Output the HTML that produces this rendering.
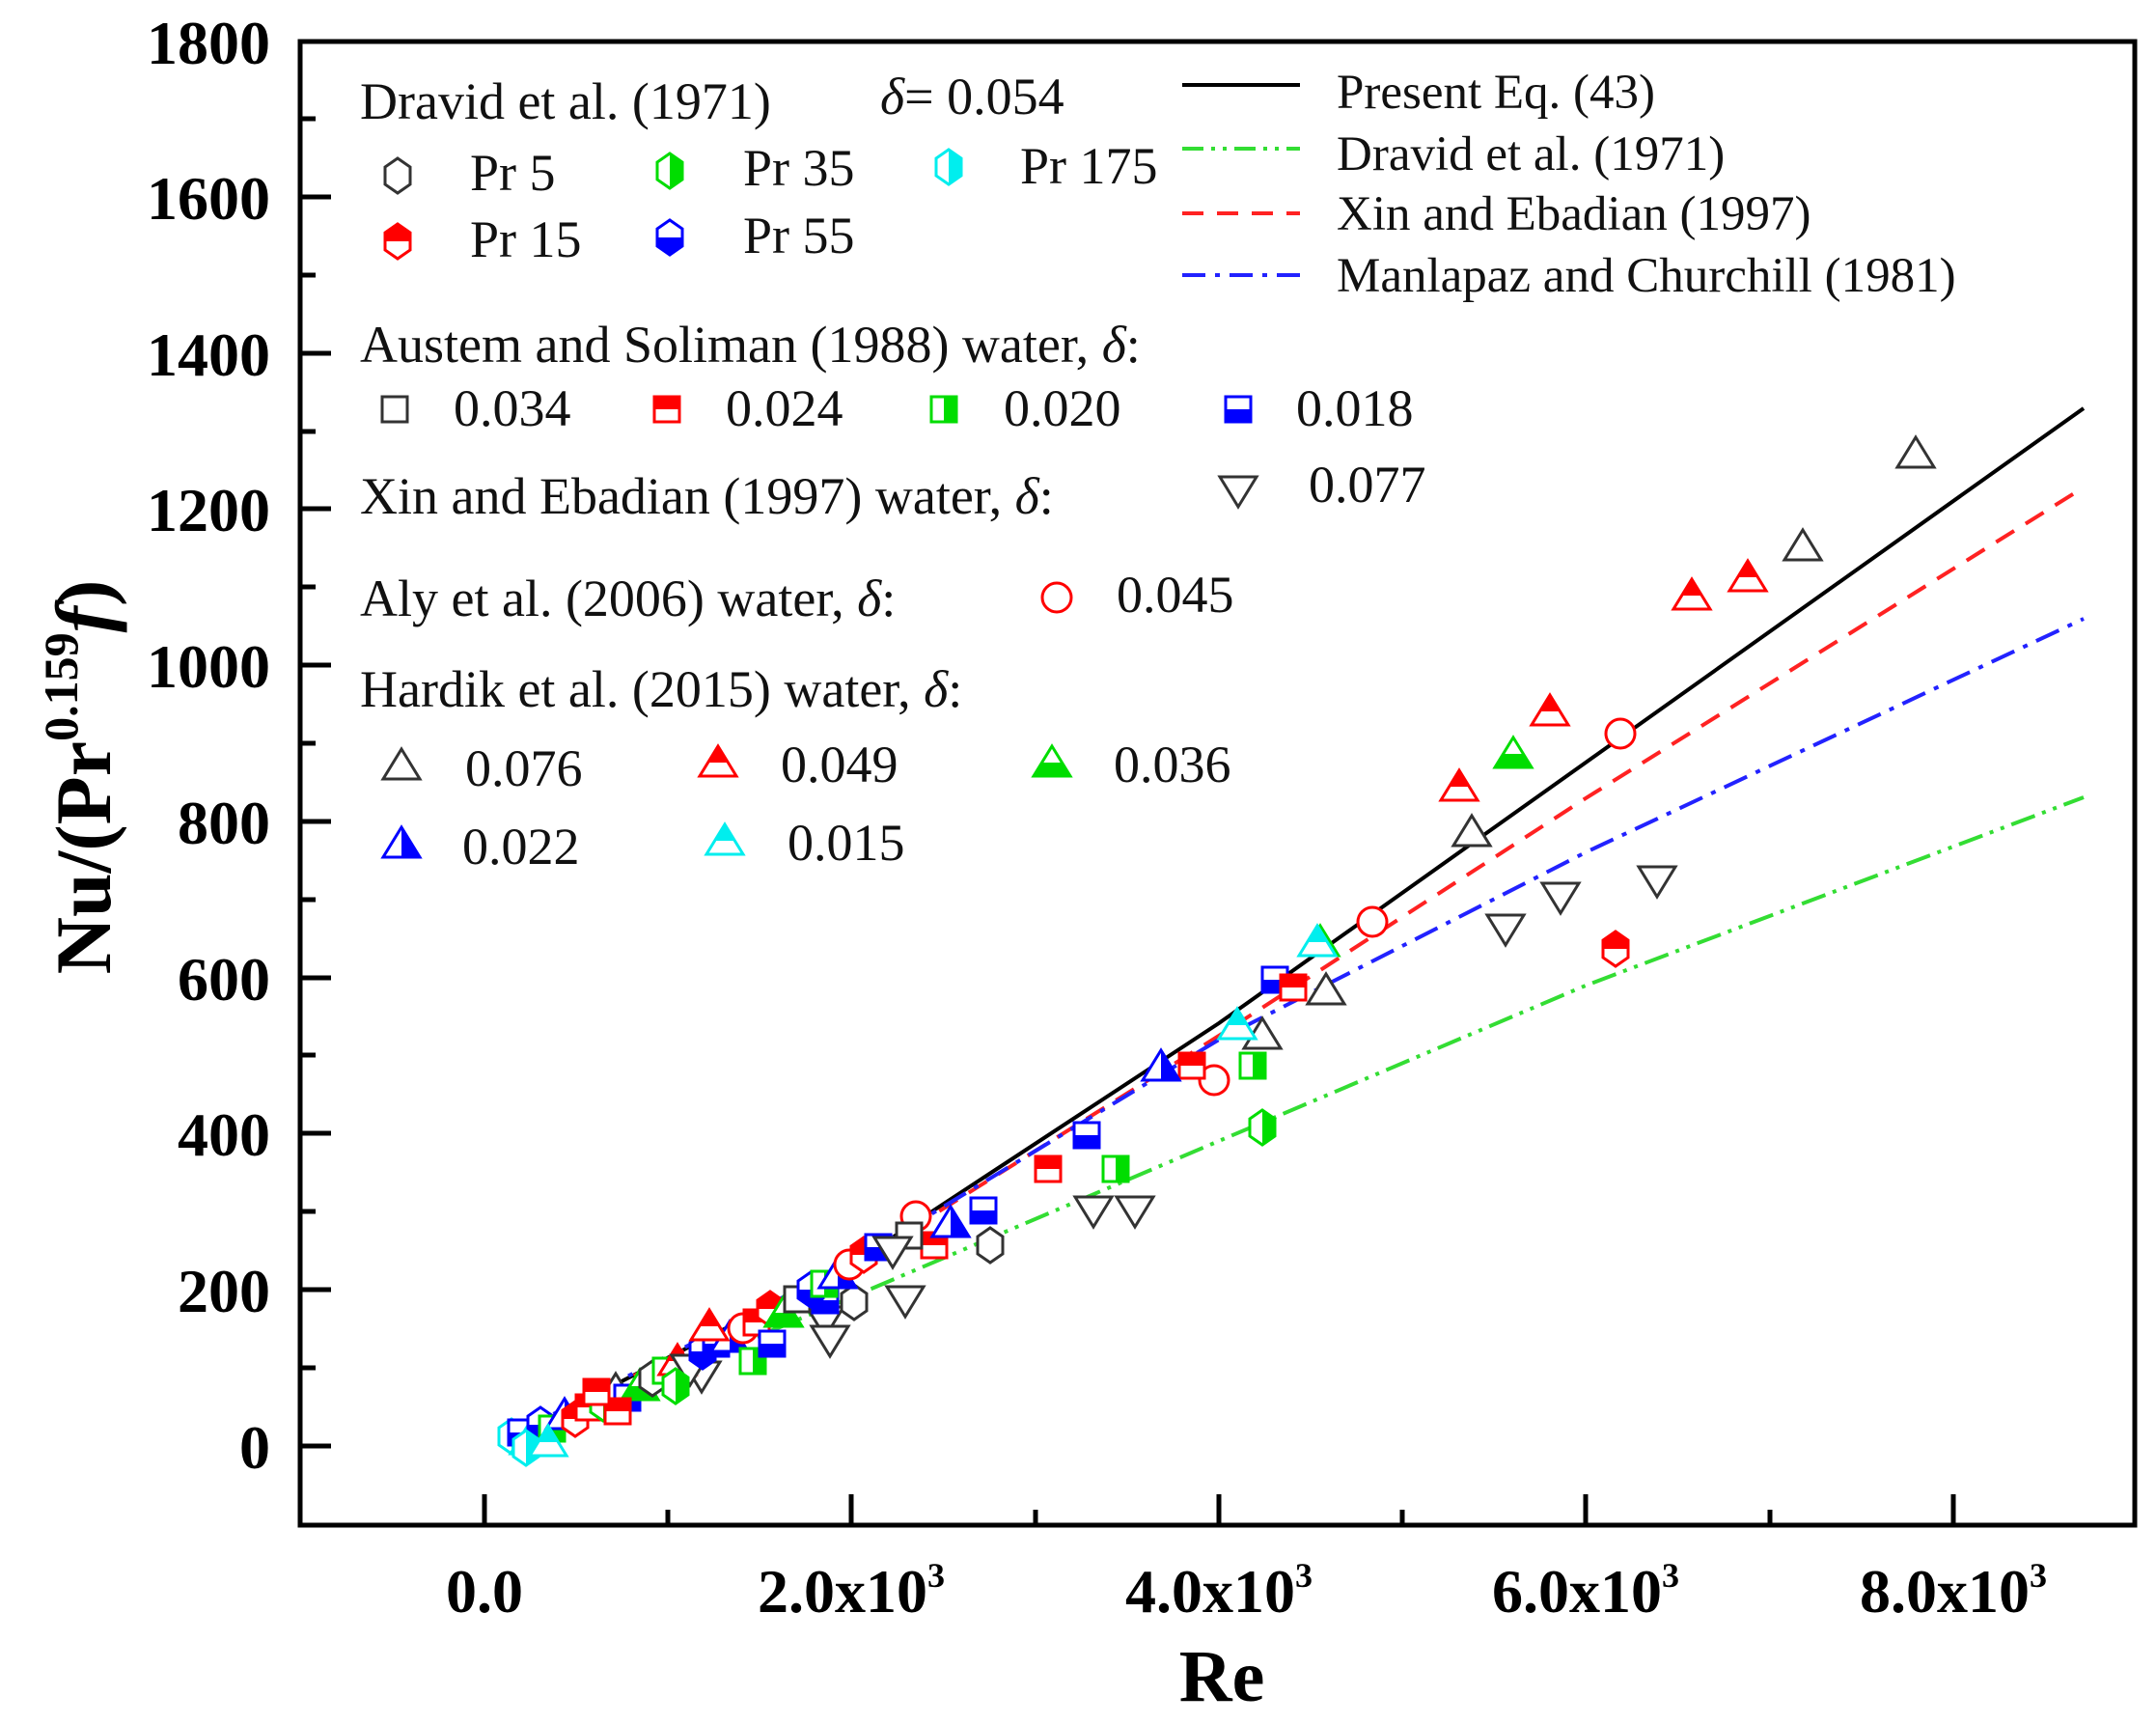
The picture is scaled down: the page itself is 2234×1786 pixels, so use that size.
<!DOCTYPE html>
<html><head><meta charset="utf-8"><style>
html,body{margin:0;padding:0;background:#fff}
svg{display:block}
text{font-family:"Liberation Serif",serif}
</style></head><body>
<svg width="2234" height="1786" viewBox="0 0 2234 1786" xmlns="http://www.w3.org/2000/svg">
<defs>
<clipPath id="cT" clipPathUnits="userSpaceOnUse"><rect x="-30" y="-30" width="60" height="30"/></clipPath>
<clipPath id="cB" clipPathUnits="userSpaceOnUse"><rect x="-30" y="0" width="60" height="30"/></clipPath>
<clipPath id="cR" clipPathUnits="userSpaceOnUse"><rect x="0" y="-30" width="30" height="60"/></clipPath>
<g id="hex"><polygon points="0,-18 13,-9 13,9 0,18 -13,9 -13,-9" fill="#fff" stroke="#333" stroke-width="3"/></g>
<g id="hexR"><polygon points="0,-18 13,-9 13,9 0,18 -13,9 -13,-9" fill="#fff" stroke="#f00" stroke-width="3"/><polygon points="0,-18 13,-9 13,9 0,18 -13,9 -13,-9" fill="#f00" clip-path="url(#cT)"/></g>
<g id="hexG"><polygon points="0,-18 13,-9 13,9 0,18 -13,9 -13,-9" fill="#fff" stroke="#0d0" stroke-width="3"/><polygon points="0,-18 13,-9 13,9 0,18 -13,9 -13,-9" fill="#0d0" clip-path="url(#cR)"/></g>
<g id="hexB"><polygon points="0,-18 13,-9 13,9 0,18 -13,9 -13,-9" fill="#fff" stroke="#00f" stroke-width="3"/><polygon points="0,-18 13,-9 13,9 0,18 -13,9 -13,-9" fill="#00f" clip-path="url(#cB)"/></g>
<g id="hexC"><polygon points="0,-18 13,-9 13,9 0,18 -13,9 -13,-9" fill="#fff" stroke="#0ee" stroke-width="3"/><polygon points="0,-18 13,-9 13,9 0,18 -13,9 -13,-9" fill="#0ee" clip-path="url(#cR)"/></g>
<g id="sq"><rect x="-13" y="-13" width="26" height="26" fill="#fff" stroke="#333" stroke-width="3"/></g>
<g id="sqR"><rect x="-13" y="-13" width="26" height="26" fill="#fff" stroke="#f00" stroke-width="3"/><rect x="-13" y="-13" width="26" height="13" fill="#f00"/></g>
<g id="sqG"><rect x="-13" y="-13" width="26" height="26" fill="#fff" stroke="#0d0" stroke-width="3"/><rect x="0" y="-13" width="13" height="26" fill="#0d0"/></g>
<g id="sqB"><rect x="-13" y="-13" width="26" height="26" fill="#fff" stroke="#00f" stroke-width="3"/><rect x="-13" y="0" width="26" height="13" fill="#00f"/></g>
<g id="tri"><polygon points="0,-17 19,14 -19,14" fill="#fff" stroke="#333" stroke-width="3"/></g>
<g id="triR"><polygon points="0,-17 19,14 -19,14" fill="#fff" stroke="#f00" stroke-width="3"/><polygon points="0,-17 19,14 -19,14" fill="#f00" clip-path="url(#cT)"/></g>
<g id="triG"><polygon points="0,-17 19,14 -19,14" fill="#fff" stroke="#0d0" stroke-width="3"/><polygon points="0,-17 19,14 -19,14" fill="#0d0" clip-path="url(#cB)"/></g>
<g id="triB"><polygon points="0,-17 19,14 -19,14" fill="#fff" stroke="#00f" stroke-width="3"/><polygon points="0,-17 19,14 -19,14" fill="#00f" clip-path="url(#cR)"/></g>
<g id="triC"><polygon points="0,-17 19,14 -19,14" fill="#fff" stroke="#0ee" stroke-width="3"/><polygon points="0,-17 19,14 -19,14" fill="#0ee" clip-path="url(#cT)"/></g>
<g id="dtri"><polygon points="0,17 19,-14 -19,-14" fill="#fff" stroke="#333" stroke-width="3"/></g>
<g id="cir"><circle r="15" fill="#fff" stroke="#f00" stroke-width="3"/></g>
</defs>

<rect x="311" y="43" width="1901" height="1537" fill="none" stroke="#000" stroke-width="5"/>
<g stroke="#000" stroke-width="5">
<line x1="311" y1="1498" x2="343" y2="1498"/><line x1="311" y1="1417" x2="327" y2="1417"/>
<line x1="311" y1="1336" x2="343" y2="1336"/><line x1="311" y1="1255" x2="327" y2="1255"/>
<line x1="311" y1="1174" x2="343" y2="1174"/><line x1="311" y1="1093" x2="327" y2="1093"/>
<line x1="311" y1="1013" x2="343" y2="1013"/><line x1="311" y1="932" x2="327" y2="932"/>
<line x1="311" y1="851" x2="343" y2="851"/><line x1="311" y1="770" x2="327" y2="770"/>
<line x1="311" y1="689" x2="343" y2="689"/><line x1="311" y1="608" x2="327" y2="608"/>
<line x1="311" y1="527" x2="343" y2="527"/><line x1="311" y1="447" x2="327" y2="447"/>
<line x1="311" y1="366" x2="343" y2="366"/><line x1="311" y1="285" x2="327" y2="285"/>
<line x1="311" y1="204" x2="343" y2="204"/><line x1="311" y1="123" x2="327" y2="123"/>
<line x1="502" y1="1580" x2="502" y2="1548"/><line x1="692" y1="1580" x2="692" y2="1564"/>
<line x1="882" y1="1580" x2="882" y2="1548"/><line x1="1073" y1="1580" x2="1073" y2="1564"/>
<line x1="1263" y1="1580" x2="1263" y2="1548"/><line x1="1453" y1="1580" x2="1453" y2="1564"/>
<line x1="1643" y1="1580" x2="1643" y2="1548"/><line x1="1834" y1="1580" x2="1834" y2="1564"/>
<line x1="2024" y1="1580" x2="2024" y2="1548"/>
</g>
<g font-size="64" font-weight="bold" text-anchor="end">
<text x="280" y="1521">0</text><text x="280" y="1359">200</text><text x="280" y="1197">400</text>
<text x="280" y="1036">600</text><text x="280" y="874">800</text><text x="280" y="712">1000</text>
<text x="280" y="550">1200</text><text x="280" y="389">1400</text><text x="280" y="227">1600</text>
<text x="280" y="66">1800</text>
</g>
<g font-size="64" font-weight="bold" text-anchor="middle">
<text x="502" y="1670">0.0</text>
<text x="882" y="1670">2.0x10<tspan font-size="36" dy="-26">3</tspan></text>
<text x="1263" y="1670">4.0x10<tspan font-size="36" dy="-26">3</tspan></text>
<text x="1643" y="1670">6.0x10<tspan font-size="36" dy="-26">3</tspan></text>
<text x="2024" y="1670">8.0x10<tspan font-size="36" dy="-26">3</tspan></text>
<text x="1266" y="1762" font-size="76">Re</text>
</g>
<text transform="translate(114,805) rotate(-90)" font-size="82" font-weight="bold" text-anchor="middle">Nu/(Pr<tspan font-size="50" dy="-34">0.159</tspan><tspan dy="34" font-style="italic">f</tspan>)</text>

<g fill="none" stroke-width="4">
<polyline points="528,1490 882,1310 1263,1060 1643,790 2159,423" stroke="#000"/>
<polyline points="528,1490 882,1312 1263,1073 1643,827 2159,505" stroke="#f22" stroke-dasharray="22,14"/>
<polyline points="528,1488 882,1308 1263,1077 1643,883 2159,641" stroke="#22f" stroke-dasharray="26,10,5,10"/>
<polyline points="528,1492 882,1344 1263,1182 1643,1021 2159,826" stroke="#3d3" stroke-dasharray="26,8,4,8,4,8"/>
</g>

<use href="#tri" x="1985" y="470"/><use href="#tri" x="1868" y="566"/><use href="#tri" x="1525" y="862"/><use href="#tri" x="1374" y="1026"/><use href="#tri" x="1308" y="1072"/>
<use href="#triR" x="1753" y="617"/><use href="#triR" x="1811" y="598"/><use href="#triR" x="1606" y="737"/><use href="#triR" x="1512" y="815"/>
<use href="#triG" x="1568" y="781"/><use href="#triG" x="1368" y="976"/>
<use href="#cir" x="1679" y="760"/><use href="#cir" x="1422" y="955"/><use href="#cir" x="1258" y="1119"/><use href="#cir" x="949" y="1260"/>
<use href="#dtri" x="1717" y="912"/><use href="#dtri" x="1617" y="929"/><use href="#dtri" x="1560" y="962"/><use href="#dtri" x="1176" y="1254"/><use href="#dtri" x="1133" y="1254"/><use href="#dtri" x="938" y="1347"/><use href="#dtri" x="855" y="1368"/><use href="#dtri" x="727" y="1425"/>
<use href="#hexR" x="1674" y="983"/><use href="#hexG" x="1308" y="1168"/>
<use href="#sqB" x="1321" y="1015"/><use href="#sqB" x="1126" y="1176"/><use href="#sqB" x="1019" y="1254"/><use href="#sqB" x="855" y="1347"/>
<use href="#sqG" x="1156" y="1211"/><use href="#sqG" x="1298" y="1104"/>
<use href="#sqR" x="1086" y="1211"/><use href="#sqR" x="968" y="1290"/><use href="#sqR" x="1235" y="1104"/><use href="#sqR" x="1340" y="1023"/>
<use href="#sq" x="942" y="1280"/><use href="#sq" x="805" y="1361"/>
<use href="#triC" x="1365" y="976"/><use href="#triC" x="1282" y="1062"/>
<use href="#triB" x="1203" y="1105"/><use href="#triB" x="985" y="1267"/>
<use href="#hex" x="1026" y="1290"/><use href="#hex" x="885" y="1349"/>
<use href="#hexC" x="530" y="1488"/><use href="#sqB" x="540" y="1484"/><use href="#triC" x="548" y="1492"/><use href="#hexB" x="560" y="1476"/><use href="#sqG" x="572" y="1480"/><use href="#triB" x="585" y="1466"/><use href="#hexR" x="596" y="1470"/><use href="#sqR" x="610" y="1458"/><use href="#hexG" x="625" y="1454"/><use href="#tri" x="638" y="1440"/><use href="#sqB" x="650" y="1448"/><use href="#triG" x="663" y="1436"/><use href="#hex" x="676" y="1428"/><use href="#sqG" x="690" y="1420"/><use href="#triR" x="702" y="1410"/><use href="#dtri" x="715" y="1418"/><use href="#hexB" x="728" y="1400"/><use href="#sqB" x="742" y="1392"/><use href="#triB" x="756" y="1386"/><use href="#cir" x="770" y="1376"/><use href="#sqR" x="784" y="1370"/><use href="#hexR" x="798" y="1356"/><use href="#triG" x="812" y="1360"/><use href="#sq" x="826" y="1346"/><use href="#hexB" x="840" y="1336"/><use href="#sqG" x="854" y="1330"/><use href="#triB" x="868" y="1320"/><use href="#cir" x="880" y="1310"/><use href="#hexR" x="895" y="1300"/><use href="#sqB" x="910" y="1292"/><use href="#dtri" x="925" y="1296"/><use href="#dtri" x="860" y="1388"/><use href="#sqG" x="780" y="1410"/><use href="#hexG" x="700" y="1436"/><use href="#sqR" x="640" y="1462"/><use href="#sqR" x="618" y="1442"/><use href="#triR" x="735" y="1374"/><use href="#sqB" x="800" y="1392"/><use href="#hexC" x="545" y="1500"/><use href="#triC" x="568" y="1494"/>

<g font-size="54" fill="#111">
<text x="373" y="123">Dravid  et al. (1971)</text><text x="912" y="118"><tspan font-style="italic">δ</tspan>= 0.054</text>
<text x="487" y="197">Pr 5</text><text x="770" y="192">Pr 35</text><text x="1057" y="190">Pr 175</text>
<text x="487" y="266">Pr 15</text><text x="770" y="262">Pr  55</text>
<text x="373" y="375">Austem and Soliman (1988) water, <tspan font-style="italic">δ</tspan>:</text>
<text x="470" y="441">0.034</text><text x="752" y="441">0.024</text><text x="1040" y="441">0.020</text><text x="1343" y="441">0.018</text>
<text x="373" y="532">Xin and Ebadian (1997) water, <tspan font-style="italic">δ</tspan>:</text><text x="1356" y="520">0.077</text>
<text x="373" y="638">Aly et al. (2006) water, <tspan font-style="italic">δ</tspan>:</text><text x="1157" y="634">0.045</text>
<text x="373" y="732">Hardik et al. (2015) water, <tspan font-style="italic">δ</tspan>:</text>
<text x="482" y="814">0.076</text><text x="809" y="810">0.049</text><text x="1154" y="810">0.036</text>
<text x="479" y="895">0.022</text><text x="816" y="891">0.015</text>
</g>
<use href="#hex" x="412" y="182"/><use href="#hexG" x="694" y="177"/><use href="#hexC" x="983" y="173"/>
<use href="#hexR" x="412" y="250"/><use href="#hexB" x="694" y="246"/>
<use href="#sq" x="409" y="424"/><use href="#sqR" x="691" y="424"/><use href="#sqG" x="978" y="424"/><use href="#sqB" x="1283" y="424"/>
<use href="#dtri" x="1283" y="508"/><use href="#cir" x="1095" y="619"/>
<use href="#tri" x="416" y="793"/><use href="#triR" x="744" y="790"/><use href="#triG" x="1090" y="790"/>
<use href="#triB" x="416" y="874"/><use href="#triC" x="751" y="871"/>

<g stroke-width="4">
<line x1="1225" y1="88" x2="1347" y2="88" stroke="#000"/>
<line x1="1225" y1="154" x2="1347" y2="154" stroke="#3d3" stroke-dasharray="22,8,4,8,4,8"/>
<line x1="1225" y1="221" x2="1347" y2="221" stroke="#f22" stroke-dasharray="22,14"/>
<line x1="1225" y1="285" x2="1347" y2="285" stroke="#22f" stroke-dasharray="24,10,5,10"/>
</g>
<g font-size="51" fill="#111">
<text x="1385" y="112">Present Eq. (43)</text>
<text x="1385" y="176">Dravid et al. (1971)</text>
<text x="1385" y="238">Xin and Ebadian (1997)</text>
<text x="1385" y="302">Manlapaz and Churchill (1981)</text>
</g>
</svg>
</body></html>
